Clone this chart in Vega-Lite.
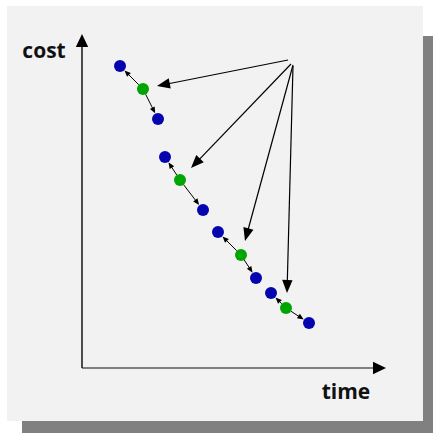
{
  "$schema": "https://vega.github.io/schema/vega-lite/v6.json",
  "width": 433,
  "height": 433,
  "autosize": {"type": "fit", "contains": "padding"},
  "padding": 0,
  "background": "white",
  "config": {"view": {"stroke": null}},
  "resolve": {"scale": {"color": "independent"}},
  "datasets": {
    "shadow": [{"x0": -6.0, "x1": 35.1, "y0": -6.5, "y1": 33.2}],
    "panel": [{"x0": -7.5, "x1": 34.1, "y0": -5.3, "y1": 36.2}],
    "axes": [
      {"axis": "time", "t0": 0, "c0": 0, "t1": 30.4, "c1": 0},
      {"axis": "cost", "t0": 0, "c0": 0, "t1": 0, "c1": 33.4}
    ],
    "labels": [
      {"label": "cost", "t": -3.8, "c": 31.0},
      {"label": "time", "t": 26.4, "c": -3.1}
    ],
    "points": [
      {"group": 1, "role": "neighbor", "time": 3.8, "cost": 30.2},
      {"group": 1, "role": "current", "time": 6.1, "cost": 27.9},
      {"group": 1, "role": "neighbor", "time": 7.6, "cost": 24.9},
      {"group": 2, "role": "neighbor", "time": 8.3, "cost": 21.1},
      {"group": 2, "role": "current", "time": 9.8, "cost": 18.8},
      {"group": 2, "role": "neighbor", "time": 12.1, "cost": 15.8},
      {"group": 3, "role": "neighbor", "time": 13.6, "cost": 13.6},
      {"group": 3, "role": "current", "time": 15.9, "cost": 11.3},
      {"group": 3, "role": "neighbor", "time": 17.4, "cost": 9.0},
      {"group": 4, "role": "neighbor", "time": 18.9, "cost": 7.5},
      {"group": 4, "role": "current", "time": 20.4, "cost": 6.0},
      {"group": 4, "role": "neighbor", "time": 22.7, "cost": 4.5}
    ],
    "pointers": [
      {"t0": 20.6, "c0": 30.8, "t1": 7.5, "c1": 28.2},
      {"t0": 20.9, "c0": 30.4, "t1": 10.9, "c1": 20.0},
      {"t0": 21.1, "c0": 30.3, "t1": 16.3, "c1": 12.7},
      {"t0": 21.1, "c0": 30.2, "t1": 20.5, "c1": 7.5}
    ]
  },
  "layer": [
    {
      "data": {"name": "shadow"},
      "mark": {"type": "rect", "color": "#808080"},
      "encoding": {
        "x": {"field": "x0", "type": "quantitative", "scale": {"domain": [-8.2, 35.1], "nice": false, "zero": false}, "axis": null},
        "x2": {"field": "x1"},
        "y": {"field": "y0", "type": "quantitative", "scale": {"domain": [-6.5, 36.8], "nice": false, "zero": false}, "axis": null},
        "y2": {"field": "y1"}
      }
    },
    {
      "data": {"name": "panel"},
      "mark": {"type": "rect", "color": "#f2f2f2"},
      "encoding": {
        "x": {"field": "x0", "type": "quantitative", "axis": null},
        "x2": {"field": "x1"},
        "y": {"field": "y0", "type": "quantitative", "axis": null},
        "y2": {"field": "y1"}
      }
    },
    {
      "data": {"name": "axes"},
      "transform": [
        {"calculate": "datum.t1 - datum.t0", "as": "dx"},
        {"calculate": "datum.c1 - datum.c0", "as": "dy"},
        {"calculate": "sqrt(datum.dx*datum.dx + datum.dy*datum.dy)", "as": "len"},
        {"calculate": "datum.t1 - 0.65*datum.dx/datum.len", "as": "ht"},
        {"calculate": "datum.c1 - 0.65*datum.dy/datum.len", "as": "hc"}
      ],
      "mark": {"type": "rule", "strokeWidth": 1.6},
      "encoding": {
        "x": {"field": "t0", "type": "quantitative", "axis": null},
        "x2": {"field": "ht"},
        "y": {"field": "c0", "type": "quantitative", "axis": null},
        "y2": {"field": "hc"},
        "stroke": {"field": "axis", "type": "nominal", "scale": {"domain": ["time", "cost"], "range": ["#5a5a5a", "#222222"]}, "legend": null}
      }
    },
    {
      "data": {"name": "axes"},
      "transform": [
        {"calculate": "datum.t1 - datum.t0", "as": "dx"},
        {"calculate": "datum.c1 - datum.c0", "as": "dy"},
        {"calculate": "sqrt(datum.dx*datum.dx + datum.dy*datum.dy)", "as": "len"},
        {"calculate": "datum.t1 - 0.65*datum.dx/datum.len", "as": "ht"},
        {"calculate": "datum.c1 - 0.65*datum.dy/datum.len", "as": "hc"},
        {"calculate": "atan2(datum.dx, datum.dy)*180/PI", "as": "ang"}
      ],
      "mark": {"type": "point", "shape": "M0,-1L-0.95,1L0.95,1Z", "filled": true, "color": "black", "opacity": 1, "size": 169, "strokeWidth": 0},
      "encoding": {
        "x": {"field": "ht", "type": "quantitative", "axis": null},
        "y": {"field": "hc", "type": "quantitative", "axis": null},
        "angle": {"field": "ang", "type": "quantitative", "scale": null}
      }
    },
    {
      "data": {"name": "pointers"},
      "transform": [
        {"calculate": "datum.t1 - datum.t0", "as": "dx"},
        {"calculate": "datum.c1 - datum.c0", "as": "dy"},
        {"calculate": "sqrt(datum.dx*datum.dx + datum.dy*datum.dy)", "as": "len"},
        {"calculate": "datum.t1 - 0.65*datum.dx/datum.len", "as": "ht"},
        {"calculate": "datum.c1 - 0.65*datum.dy/datum.len", "as": "hc"}
      ],
      "mark": {"type": "rule", "color": "black", "strokeWidth": 1.2},
      "encoding": {
        "x": {"field": "t0", "type": "quantitative", "axis": null},
        "x2": {"field": "ht"},
        "y": {"field": "c0", "type": "quantitative", "axis": null},
        "y2": {"field": "hc"}
      }
    },
    {
      "data": {"name": "pointers"},
      "transform": [
        {"calculate": "datum.t1 - datum.t0", "as": "dx"},
        {"calculate": "datum.c1 - datum.c0", "as": "dy"},
        {"calculate": "sqrt(datum.dx*datum.dx + datum.dy*datum.dy)", "as": "len"},
        {"calculate": "datum.t1 - 0.65*datum.dx/datum.len", "as": "ht"},
        {"calculate": "datum.c1 - 0.65*datum.dy/datum.len", "as": "hc"},
        {"calculate": "atan2(datum.dx, datum.dy)*180/PI", "as": "ang"}
      ],
      "mark": {"type": "point", "shape": "M0,-1L-0.8,1L0.8,1Z", "filled": true, "color": "black", "opacity": 1, "size": 169, "strokeWidth": 0},
      "encoding": {
        "x": {"field": "ht", "type": "quantitative", "axis": null},
        "y": {"field": "hc", "type": "quantitative", "axis": null},
        "angle": {"field": "ang", "type": "quantitative", "scale": null}
      }
    },
    {
      "data": {"name": "points"},
      "transform": [
        {"calculate": "datum.role === 'current' ? datum.time : null", "as": "gt0"},
        {"calculate": "datum.role === 'current' ? datum.cost : null", "as": "gc0"},
        {"joinaggregate": [{"op": "max", "field": "gt0", "as": "gt"}, {"op": "max", "field": "gc0", "as": "gc"}], "groupby": ["group"]},
        {"filter": "datum.role === 'neighbor'"},
        {"calculate": "datum.time - datum.gt", "as": "dx"},
        {"calculate": "datum.cost - datum.gc", "as": "dy"},
        {"calculate": "sqrt(datum.dx*datum.dx + datum.dy*datum.dy)", "as": "len"},
        {"calculate": "datum.gt + 0.6*datum.dx/datum.len", "as": "st"},
        {"calculate": "datum.gc + 0.6*datum.dy/datum.len", "as": "sc"},
        {"calculate": "datum.time - 0.95*datum.dx/datum.len", "as": "ht"},
        {"calculate": "datum.cost - 0.95*datum.dy/datum.len", "as": "hc"}
      ],
      "mark": {"type": "rule", "color": "black", "strokeWidth": 1},
      "encoding": {
        "x": {"field": "st", "type": "quantitative", "axis": null},
        "x2": {"field": "ht"},
        "y": {"field": "sc", "type": "quantitative", "axis": null},
        "y2": {"field": "hc"}
      }
    },
    {
      "data": {"name": "points"},
      "transform": [
        {"calculate": "datum.role === 'current' ? datum.time : null", "as": "gt0"},
        {"calculate": "datum.role === 'current' ? datum.cost : null", "as": "gc0"},
        {"joinaggregate": [{"op": "max", "field": "gt0", "as": "gt"}, {"op": "max", "field": "gc0", "as": "gc"}], "groupby": ["group"]},
        {"filter": "datum.role === 'neighbor'"},
        {"calculate": "datum.time - datum.gt", "as": "dx"},
        {"calculate": "datum.cost - datum.gc", "as": "dy"},
        {"calculate": "sqrt(datum.dx*datum.dx + datum.dy*datum.dy)", "as": "len"},
        {"calculate": "datum.time - 0.95*datum.dx/datum.len", "as": "ht"},
        {"calculate": "datum.cost - 0.95*datum.dy/datum.len", "as": "hc"},
        {"calculate": "atan2(datum.dx, datum.dy)*180/PI", "as": "ang"}
      ],
      "mark": {"type": "point", "shape": "M0,-1L-0.85,1L0.85,1Z", "filled": true, "color": "black", "opacity": 1, "size": 40, "strokeWidth": 0},
      "encoding": {
        "x": {"field": "ht", "type": "quantitative", "axis": null},
        "y": {"field": "hc", "type": "quantitative", "axis": null},
        "angle": {"field": "ang", "type": "quantitative", "scale": null}
      }
    },
    {
      "data": {"name": "points"},
      "mark": {"type": "circle", "size": 144, "opacity": 1},
      "encoding": {
        "x": {"field": "time", "type": "quantitative", "axis": null},
        "y": {"field": "cost", "type": "quantitative", "axis": null},
        "color": {"field": "role", "type": "nominal", "scale": {"domain": ["neighbor", "current"], "range": ["#0505b0", "#00a500"]}, "legend": null}
      }
    },
    {
      "data": {"name": "labels"},
      "mark": {"type": "text", "font": "Open Sans", "fontWeight": "bold", "fontSize": 21, "align": "center", "baseline": "alphabetic", "color": "#111111"},
      "encoding": {
        "x": {"field": "t", "type": "quantitative", "axis": null},
        "y": {"field": "c", "type": "quantitative", "axis": null},
        "text": {"field": "label", "type": "nominal"}
      }
    }
  ]
}
